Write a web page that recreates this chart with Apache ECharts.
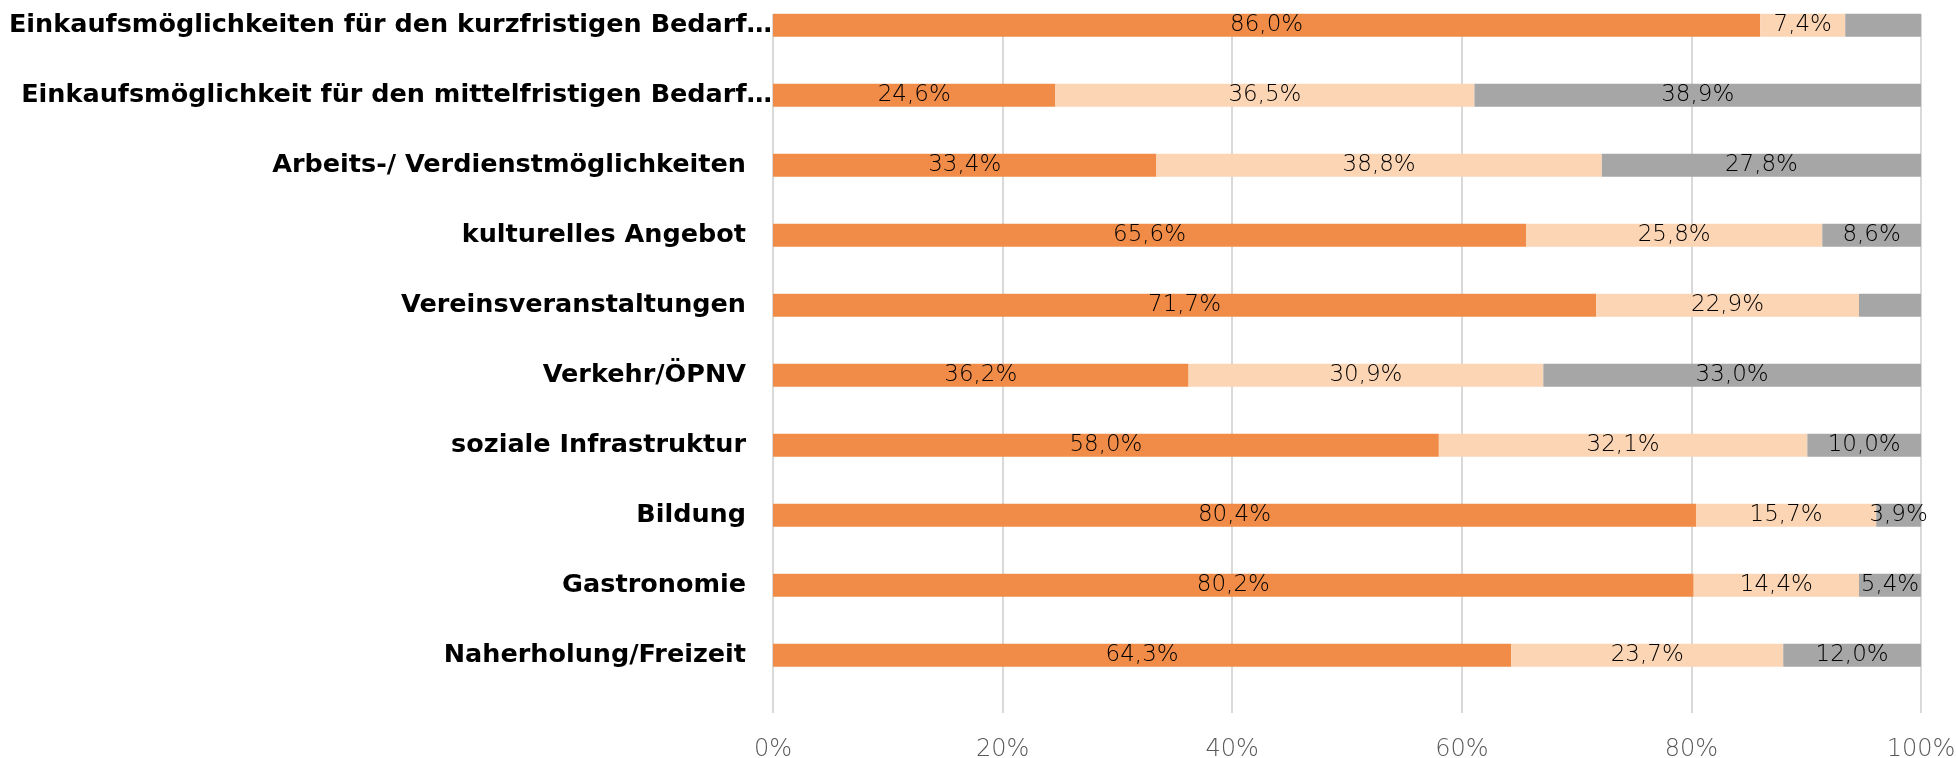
<!DOCTYPE html>
<html>
<head>
<meta charset="utf-8">
<script src="https://cdn.jsdelivr.net/npm/echarts@6/dist/echarts.min.js"></script>
<style>
  html, body { margin: 0; padding: 0; background: #ffffff; }
  #chart { width: 1956px; height: 758px; }
</style>
</head>
<body>
<div id="chart"></div>
<script>
// Categories, top to bottom
const categories = [
  'Einkaufsmöglichkeiten für den kurzfristigen Bedarf…',
  'Einkaufsmöglichkeit für den mittelfristigen Bedarf…',
  'Arbeits-/ Verdienstmöglichkeiten',
  'kulturelles Angebot',
  'Vereinsveranstaltungen',
  'Verkehr/ÖPNV',
  'soziale Infrastruktur',
  'Bildung',
  'Gastronomie',
  'Naherholung/Freizeit'
];

// Shares in percent per category
const gut      = [86.0, 24.6, 33.4, 65.6, 71.7, 36.2, 58.0, 80.4, 80.2, 64.3];
const mittel   = [7.4, 36.5, 38.8, 25.8, 22.9, 30.9, 32.1, 15.7, 14.4, 23.7];
const schlecht = [6.6, 38.9, 27.8, 8.6, 5.4, 33.0, 10.0, 3.9, 5.4, 12.0];

// Segments drawn without a value label
const schlechtUnlabeled = [0, 4];

// Axis ticks
const xTicks = [0, 20, 40, 60, 80, 100];

const colors = ['#F08C47', '#FCD5B4', '#A6A6A6'];

const fmtPct = v => v.toFixed(1).replace('.', ',') + '%';

const chart = echarts.init(document.getElementById('chart'), null, { renderer: 'canvas' });

const valueLabel = {
  show: true,
  position: 'inside',
  color: '#000000',
  fontFamily: 'DejaVu Sans',
  fontWeight: 200,
  fontSize: 23,
  formatter: p => fmtPct(p.value)
};

function makeSeries(name, values, color, hidden) {
  return {
    name: name,
    type: 'bar',
    stack: 'total',
    xAxisIndex: 0,
    yAxisIndex: 0,
    barWidth: 23,
    itemStyle: { color: color },
    label: valueLabel,
    emphasis: { disabled: true },
    data: values.map((v, i) => (hidden && hidden.includes(i))
      ? { value: v, label: { show: false } }
      : v)
  };
}

const labelStyle = {
  color: '#000000',
  fontFamily: 'DejaVu Sans',
  fontWeight: 'bold',
  fontSize: 25.5
};

chart.setOption({
  animation: false,
  backgroundColor: '#ffffff',
  grid: [
    { left: 773, right: 35, top: -9.7, height: 700, containLabel: false, outerBoundsMode: 'none' },
    { left: 773, right: 35, top: 14, bottom: 45, containLabel: false, outerBoundsMode: 'none' }
  ],
  xAxis: [
    { gridIndex: 0, type: 'value', min: 0, max: 100, show: false },
    {
      gridIndex: 1, type: 'value', min: xTicks[0], max: xTicks[xTicks.length - 1], interval: 20,
      axisLine: { show: false },
      axisTick: { show: false },
      splitLine: { show: true, lineStyle: { color: '#D9D9D9', width: 2 } },
      axisLabel: {
        margin: 25,
        color: '#595959',
        fontFamily: 'DejaVu Sans',
        fontWeight: 200,
        fontSize: 24,
        formatter: '{value}%'
      }
    }
  ],
  yAxis: [
    {
      gridIndex: 0, type: 'category', inverse: true, data: categories,
      axisLine: { show: false }, axisTick: { show: false }, splitLine: { show: false },
      axisLabel: Object.assign({ interval: 0, margin: 27,
        formatter: (v, i) => i < 2 ? '' : v }, labelStyle)
    },
    {
      gridIndex: 0, type: 'category', inverse: true, data: categories, position: 'left',
      axisLine: { show: false }, axisTick: { show: false }, splitLine: { show: false },
      axisLabel: Object.assign({ interval: 0, margin: 1,
        formatter: (v, i) => i < 2 ? v : '' }, labelStyle)
    },
    { gridIndex: 1, type: 'value', show: false }
  ],
  series: [
    makeSeries('gut', gut, colors[0]),
    makeSeries('mittel', mittel, colors[1]),
    makeSeries('schlecht', schlecht, colors[2], schlechtUnlabeled)
  ]
});
</script>
</body>
</html>
